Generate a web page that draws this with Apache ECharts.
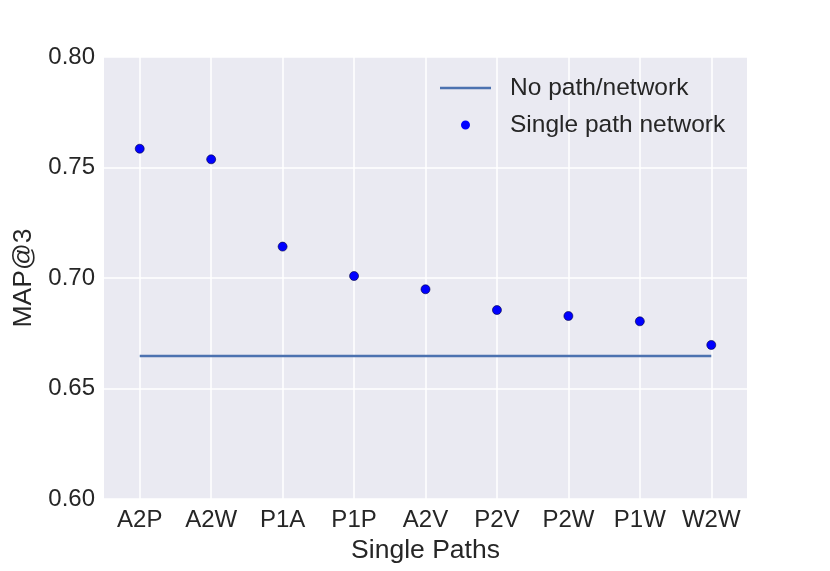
<!DOCTYPE html>
<html>
<head>
<meta charset="utf-8">
<script src="https://cdn.jsdelivr.net/npm/echarts@6/dist/echarts.min.js"></script>
<style>
html,body{margin:0;padding:0;background:#fff;}
#chart{width:830px;height:571px;}
</style>
</head>
<body>
<div id="chart"></div>
<script>
const categories = ['A2P','A2W','P1A','P1P','A2V','P2V','P2W','P1W','W2W'];
const singlePathValues = [0.7585,0.7537,0.7142,0.7009,0.6949,0.6855,0.6828,0.6804,0.6697];
const noPathValue = 0.6647;
const yTicks = [0.60,0.65,0.70,0.75,0.80];

const FONT = '"Liberation Sans", Arial, sans-serif';
const TXT = '#262626';
const idx = categories.map((c,i)=>i);

const lineIcon = 'path://M0,0L0.01,0Z M0,4.75L51,4.75L51,7.25L0,7.25Z M51,12L50.99,12Z';
const dotIcon = 'path://M0,0L0.01,0Z M21,6A4.5,4.5 0 1 1 30,6A4.5,4.5 0 1 1 21,6Z M51,12L50.99,12Z';

const chart = echarts.init(document.getElementById('chart'), null, {renderer:'canvas'});
chart.setOption({
  animation:false,
  backgroundColor:'#ffffff',
  textStyle:{fontFamily:FONT,color:TXT},
  grid:{left:104,right:83,top:57,bottom:72,show:true,backgroundColor:'#EAEAF2',borderWidth:0},
  xAxis:{
    type:'value', min:-0.5, max:categories.length-0.5,
    name:'Single Paths', nameLocation:'middle', nameGap:37,
    nameTextStyle:{fontSize:26.5,color:TXT,fontFamily:FONT},
    axisLine:{show:false},
    axisTick:{show:false, customValues:idx},
    axisLabel:{customValues:idx, fontSize:24, color:TXT, margin:9, fontFamily:FONT,
      formatter:v=>categories[Math.round(v)]},
    splitLine:{show:true, lineStyle:{color:'#ffffff',width:1.5}}
  },
  yAxis:{
    type:'value', min:yTicks[0], max:yTicks[yTicks.length-1], interval:0.05,
    name:'MAP@3', nameLocation:'middle', nameGap:62,
    nameTextStyle:{fontSize:26.5,color:TXT,fontFamily:FONT},
    axisLine:{show:false}, axisTick:{show:false},
    axisLabel:{fontSize:24,color:TXT,margin:9,fontFamily:FONT,formatter:v=>v.toFixed(2)},
    splitLine:{show:true,lineStyle:{color:'#ffffff',width:1.5}}
  },
  legend:{
    orient:'vertical', left:435, top:69, itemWidth:51, itemHeight:12, itemGap:9,
    textStyle:{fontSize:24.5,color:TXT,fontFamily:FONT,lineHeight:28,padding:[0,0,0,14]},
    data:[
      {name:'No path/network', icon:lineIcon, itemStyle:{borderWidth:0}},
      {name:'Single path network', icon:dotIcon, itemStyle:{color:'#0000FF',borderWidth:0}}
    ]
  },
  series:[
    {
      name:'No path/network', type:'line', symbol:'none',
      data:idx.map(i=>[i,noPathValue]),
      lineStyle:{color:'#4C72B0',width:2.5}, itemStyle:{color:'#4C72B0'}
    },
    {
      name:'Single path network', type:'scatter', symbolSize:9,
      data:singlePathValues.map((v,i)=>[i,v]),
      itemStyle:{color:'#0000FF',borderColor:'#00003a',borderWidth:0.6,opacity:1}
    }
  ]
});
</script>
</body>
</html>
